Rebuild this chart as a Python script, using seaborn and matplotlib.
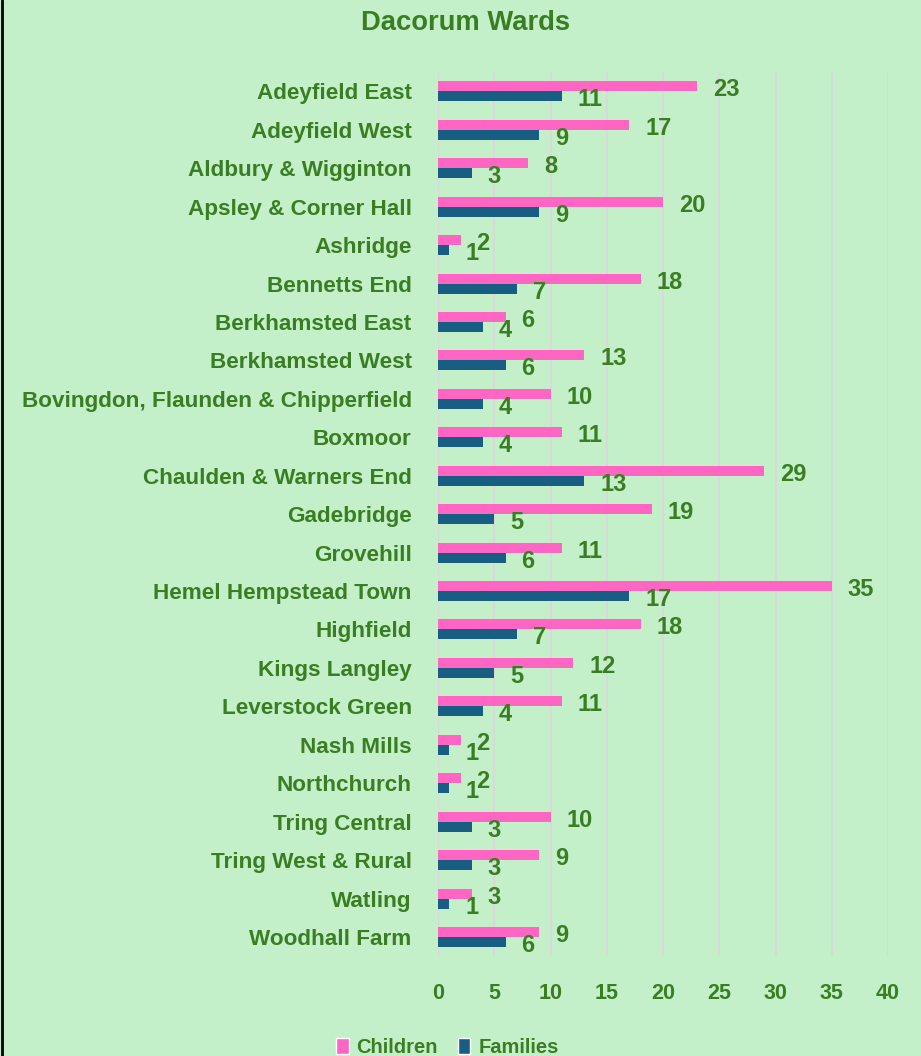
import matplotlib
matplotlib.use("Agg")
import matplotlib.pyplot as plt
import seaborn as sns
import pandas as pd
from matplotlib.patches import Patch
from matplotlib.lines import Line2D

wards = ["Adeyfield East", "Adeyfield West", "Aldbury & Wigginton", "Apsley & Corner Hall",
         "Ashridge", "Bennetts End", "Berkhamsted East", "Berkhamsted West",
         "Bovingdon, Flaunden & Chipperfield", "Boxmoor", "Chaulden & Warners End",
         "Gadebridge", "Grovehill", "Hemel Hempstead Town", "Highfield", "Kings Langley",
         "Leverstock Green", "Nash Mills", "Northchurch", "Tring Central",
         "Tring West & Rural", "Watling", "Woodhall Farm"]
children = [23, 17, 8, 20, 2, 18, 6, 13, 10, 11, 29, 19, 11, 35, 18, 12, 11, 2, 2, 10, 9, 3, 9]
families = [11, 9, 3, 9, 1, 7, 4, 6, 4, 4, 13, 5, 6, 17, 7, 5, 4, 1, 1, 3, 3, 1, 6]
series = ["Children", "Families"]
x_ticks = [0, 5, 10, 15, 20, 25, 30, 35, 40]

BG = "#C3F0C8"
GREEN = "#3B7D23"
PINK = "#FF66C4"
BLUE = "#185E82"

df = pd.DataFrame({"Ward": wards * 2,
                   "Series": ["Children"] * len(wards) + ["Families"] * len(wards),
                   "Count": children + families})

sns.set_style("white")
plt.rcParams["font.family"] = ["Liberation Sans", "DejaVu Sans"]
plt.rcParams["font.weight"] = "bold"

fig = plt.figure(figsize=(9.21, 10.56), dpi=100, facecolor=BG)
ax = fig.add_axes([0.4756, 0.0945, 0.4886, 0.8372])
ax.set_facecolor(BG)

sns.barplot(data=df, y="Ward", x="Count", hue="Series", hue_order=series, order=wards,
            palette=[PINK, BLUE], width=0.52, orient="h", ax=ax, legend=False,
            saturation=1, edgecolor="none")

# value labels just past the bar ends, nudged down a touch like excel does
for c in ax.containers:
    for ann in ax.bar_label(c, padding=11.5, color=GREEN, fontsize=17, fontweight="bold"):
        ann.xyann = (11.5, -2.5)

ax.set_xlim(0, 40)
ax.set_xticks(x_ticks)
ax.grid(axis="x", color="#D9D9D9", linewidth=1.6)
ax.grid(axis="y", visible=False)
ax.set_axisbelow(True)
for s in ax.spines.values():
    s.set_visible(False)
ax.tick_params(axis="y", length=0, pad=19, labelsize=16.2, labelcolor=GREEN)
ax.tick_params(axis="x", length=0, pad=19, labelsize=15.5, labelcolor=GREEN)
for lab in ax.get_yticklabels() + ax.get_xticklabels():
    lab.set_fontweight("bold")
for lab in ax.get_yticklabels():
    lab.set_y(lab.get_position()[1])
ax.set_xlabel("")
ax.set_ylabel("")

fig.text(0.505, 0.978, "Dacorum Wards", ha="center", va="center", color=GREEN,
         fontsize=19.7, fontweight="bold")

handles = [Patch(facecolor=PINK, label="Children"), Patch(facecolor=BLUE, label="Families")]
fig.legend(handles=handles, loc="center", bbox_to_anchor=(0.486, 0.008), ncol=2, frameon=False,
           labelcolor=GREEN, handlelength=0.6, handleheight=0.8,
           handletextpad=0.4, columnspacing=1.0, prop={"weight": "bold", "size": 14.5})

fig.add_artist(Line2D([0.002, 0.002], [0, 1], color="black", linewidth=2, transform=fig.transFigure))

fig.savefig("out.png", dpi=100, facecolor=BG)
